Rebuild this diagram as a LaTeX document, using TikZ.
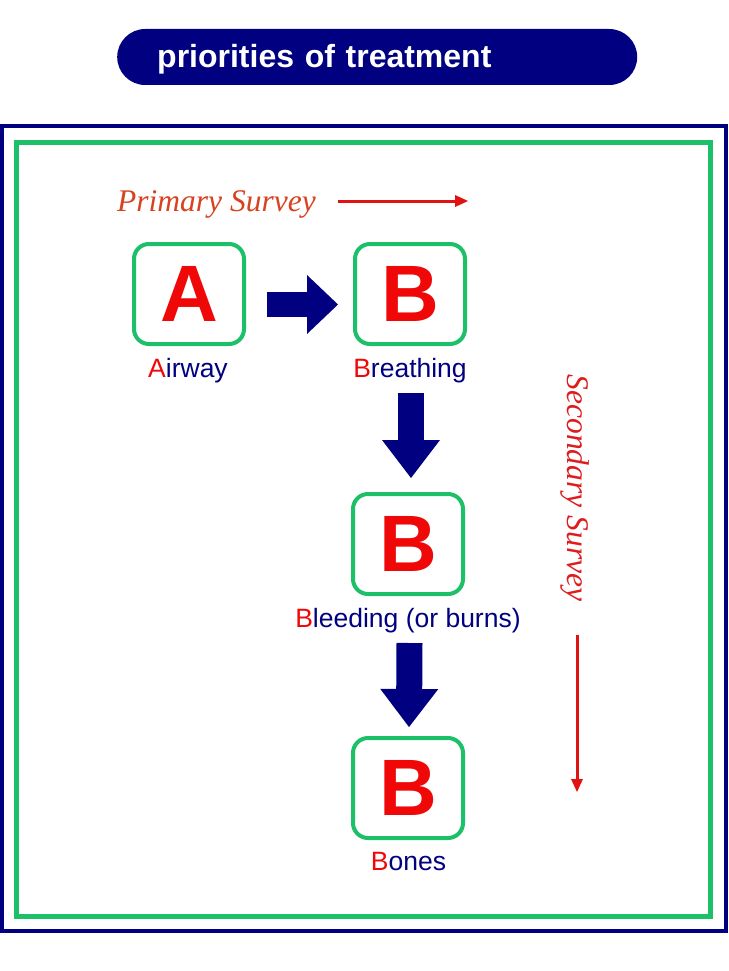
\documentclass[tikz,border=0pt]{standalone}
\usepackage{fontspec}
\setmainfont{Liberation Serif}
\setsansfont{Liberation Sans}
\usetikzlibrary{arrows.meta,calc}
\definecolor{navy}{RGB}{0,0,128}
\definecolor{framegreen}{RGB}{28,192,104}
\definecolor{letred}{RGB}{240,8,8}
\definecolor{primred}{RGB}{215,66,32}
\definecolor{secred}{RGB}{222,28,30}
\definecolor{arrred}{RGB}{226,18,18}
\begin{document}
\begin{tikzpicture}[x=1pt,y=-1pt,
  pill/.style={fill=navy, rounded corners=28pt, text=white, font=\fontsize{32}{36}\sffamily\bfseries,
    minimum height=56pt, inner xsep=40pt, text width=440pt, align=left, anchor=west,
    text height=23pt, text depth=1pt},
  lbox/.style={draw=framegreen, line width=4pt, rounded corners=15pt, minimum width=110pt,
    minimum height=100pt, font=\fontsize{80}{80}\sffamily\bfseries, text=letred},
  lab/.style={font=\fontsize{26.5}{30}\sffamily, text=navy, anchor=base, inner sep=0pt},
  surv/.style={font=\fontsize{31.5}{34}\itshape, inner sep=0pt},
  barrow/.style={draw=navy, line width=25pt, -{Triangle[width=59pt,length=31pt,line width=0pt]}},
  barrowv/.style={draw=navy, line width=26pt, -{Triangle[width=58pt,length=38pt,line width=0pt]}},
  rarrow/.style={draw=arrred, line width=3pt, -{Triangle[width=12pt,length=13pt,line width=0pt]}}
]
\useasboundingbox (0,0) rectangle (728,971);
\fill[white] (0,0) rectangle (728,971);

% title
\node[pill] (title) at (117,57) {priorities of treatment};

% frames
\draw[navy, line width=4pt] (1.5,126) rectangle (726,931);
\draw[framegreen, line width=5pt] (16,142) rectangle (710,916);

% primary survey
\node[surv, text=primred, anchor=base west] (ps) at (117,211) {Primary Survey};
\coordinate (p1) at (338,201);
\coordinate (p2) at (468,201);
\draw[rarrow] (p1) -- (p2);

% boxes
\node[lbox] (A) at (189,294) {A};
\node[lbox] (B1) at (410,294) {B};
\node[lbox] (B2) at (408,544) {B};
\node[lbox] (B3) at (408,788) {B};

% labels
\node[lab] (lA) at (188,377) {\textcolor{letred}{A}irway};
\node[lab] (lB1) at (410,377) {\textcolor{letred}{B}reathing};
\node[lab] (lB2) at (408,627) {\textcolor{letred}{B}leeding (or burns)};
\node[lab] (lB3) at (408.5,870) {\textcolor{letred}{B}ones};

% block arrows
\draw[barrow] ([xshift=21pt,yshift=-10.5pt]A.east) -- ([xshift=-15pt,yshift=-10.5pt]B1.west);
\draw[barrowv] ([xshift=1pt,yshift=-47pt]B1.south) -- ([xshift=3pt,yshift=14pt]B2.north);
\draw[barrowv] ([xshift=1.5pt,yshift=-47pt]B2.south) -- ([xshift=1pt,yshift=9pt]B3.north);

% secondary survey
\node[surv, text=secred, rotate=-90] (ss) at (575,488) {Secondary Survey};
\coordinate (s1) at (577,635);
\coordinate (s2) at (577,792);
\draw[rarrow] (s1) -- (s2);
\end{tikzpicture}
\end{document}
